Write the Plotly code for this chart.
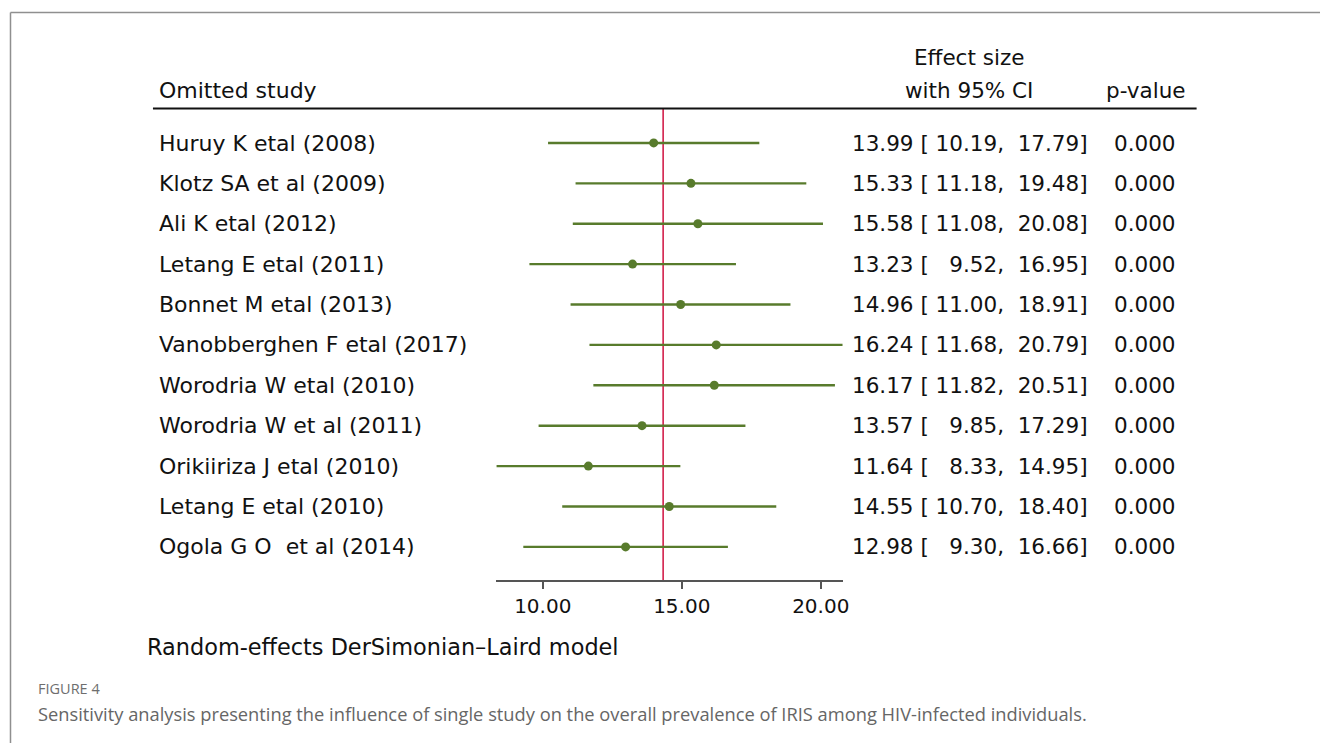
import plotly.graph_objects as go

# ---------------- data ----------------
studies = [
    "Huruy K etal (2008)",
    "Klotz SA et al (2009)",
    "Ali K etal (2012)",
    "Letang E etal (2011)",
    "Bonnet M etal (2013)",
    "Vanobberghen F etal (2017)",
    "Worodria W etal (2010)",
    "Worodria W et al (2011)",
    "Orikiiriza J etal (2010)",
    "Letang E etal (2010)",
    "Ogola G O  et al (2014)",
]
effect = [13.99, 15.33, 15.58, 13.23, 14.96, 16.24, 16.17, 13.57, 11.64, 14.55, 12.98]
ci_low = [10.19, 11.18, 11.08, 9.52, 11.00, 11.68, 11.82, 9.85, 8.33, 10.70, 9.30]
ci_high = [17.79, 19.48, 20.08, 16.95, 18.91, 20.79, 20.51, 17.29, 14.95, 18.40, 16.66]
p_values = ["0.000"] * 11
overall = 14.33
tick_vals = [10, 15, 20]
tick_text = ["10.00", "15.00", "20.00"]

W, H = 1320, 743
KX = 1.005  # small horizontal correction
FONT = "DejaVu Sans, Liberation Sans, Arial, sans-serif"
CAPFONT = "Open Sans, Noto Sans, sans-serif"
GREEN = "#587b2c"
RED = "#d21f4b"
NB = "\u00a0"


def px(x):
    return x * KX / W


def py(y):
    return 1 - y / H


n = len(studies)
rows = list(range(n))

fig = go.Figure()

# CI lines
xs, ys = [], []
for i in rows:
    xs += [ci_low[i], ci_high[i], None]
    ys += [i, i, None]
fig.add_trace(go.Scatter(x=xs, y=ys, mode="lines",
                         line=dict(color=GREEN, width=2.4),
                         hoverinfo="skip", showlegend=False))
# point estimates
fig.add_trace(go.Scatter(x=effect, y=rows, mode="markers",
                         marker=dict(color=GREEN, size=9, line=dict(width=0)),
                         showlegend=False))

# overall line
fig.add_shape(type="line", xref="x", yref="y domain", x0=overall, x1=overall,
              y0=0, y1=1, line=dict(color=RED, width=1.6), layer="below")

anns = []


def txt(x, y, s, size=21.5, anchor="left", color="#111111", family=FONT):
    anns.append(dict(x=px(x), y=py(y), xref="paper", yref="paper",
                     text=s.replace("  ", " " + NB),
                     showarrow=False, xanchor=anchor, yanchor="middle",
                     font=dict(family=family, size=size, color=color)))


# headers
txt(157, 91, "Omitted study", size=22)
txt(969, 58, "Effect size", anchor="center")
txt(969, 91, "with 95% CI", anchor="center")
txt(1146, 91, "p-value", anchor="center")

row_y0 = 143.0
row_dy = 40.39
for i in rows:
    y = row_y0 + row_dy * i
    txt(157, y, studies[i], size=22)
    lo = f"{ci_low[i]:.2f}"
    hi = f"{ci_high[i]:.2f}"
    lo_pad = NB * (3 if ci_low[i] < 10 else 1)
    hi_pad = NB * (4 if ci_high[i] < 10 else 2)
    s = f"{effect[i]:.2f}{NB}[{lo_pad}{lo},{hi_pad}{hi}]"
    txt(1090, y, s, anchor="right")
    txt(1145, y, p_values[i], anchor="center")

txt(145, 647, "Random-effects DerSimonian\u2013Laird model", size=22.4)
txt(36, 688, "FIGURE 4", size=14.5, color="#6e6e6e", family=CAPFONT)
txt(36, 713, "Sensitivity analysis presenting the influence of single study on the overall "
             "prevalence of IRIS among HIV-infected individuals.",
    size=18.3, color="#666666", family=CAPFONT)

shapes = [
    # header rule
    dict(type="line", xref="paper", yref="paper", x0=px(153), x1=px(1197),
         y0=py(108.5), y1=py(108.5), line=dict(color="#111111", width=2)),
    # outer frame (left + top)
    dict(type="line", xref="paper", yref="paper", x0=px(10.5), x1=px(10.5),
         y0=py(12.5), y1=py(760), line=dict(color="#8f8f8f", width=1.5)),
    dict(type="line", xref="paper", yref="paper", x0=px(10.5), x1=px(1330),
         y0=py(12.5), y1=py(12.5), line=dict(color="#8f8f8f", width=1.5)),
]
for s in shapes:
    fig.add_shape(**s)

fig.update_layout(
    width=W, height=H,
    margin=dict(l=0, r=0, t=0, b=0),
    paper_bgcolor="white", plot_bgcolor="white",
    annotations=anns,
    showlegend=False,
    xaxis=dict(domain=[px(496.5), px(843)], range=[min(ci_low), max(ci_high)],
               showgrid=False, zeroline=False, showline=True,
               linecolor="#555555", linewidth=1.5,
               ticks="outside", ticklen=7, tickwidth=1.5, tickcolor="#555555",
               tickvals=tick_vals, ticktext=tick_text,
               tickfont=dict(family=FONT, size=20, color="#111111"),
               fixedrange=True),
    yaxis=dict(domain=[py(580), py(109)], range=[n - 1 + 0.82, -0.84],
               visible=False, fixedrange=True),
)

fig.write_html("out.html", post_script="document.body.style.margin='0';",
               config={"displayModeBar": False})
